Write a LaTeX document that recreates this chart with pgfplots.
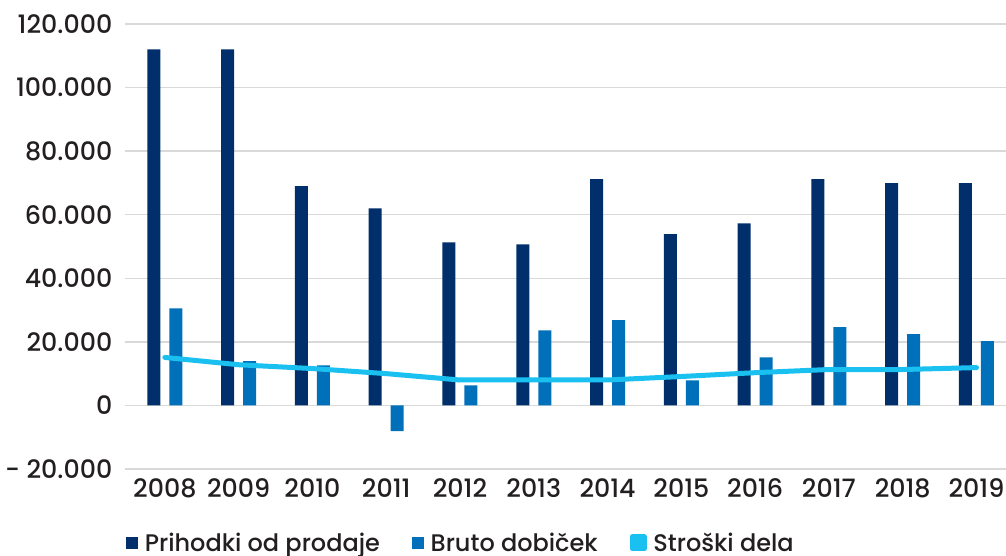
\documentclass[border=0pt]{standalone}
\usepackage{pgfplots}
\pgfplotsset{compat=1.18}
\usepackage{fontspec}
\setmainfont{Poppins}[UprightFont={* Medium}]
\definecolor{navyCol}{HTML}{002F6C}
\definecolor{blueCol}{HTML}{0070BA}
\definecolor{cyanCol}{HTML}{1AC0F0}
\definecolor{gridCol}{HTML}{D9D9D9}
\definecolor{txtCol}{HTML}{231F20}

\pgfplotstableread{
idx prihodki bruto stroski
0  112000  30500 15100
1  112000  13900 12800
2   69000  12600 11600
3   62000  -8100 10000
4   51300   6300  8000
5   50700  23600  8000
6   71200  26800  8000
7   53900   7900  9100
8   57300  15100 10300
9   71200  24600 11300
10  69900  22400 11300
11  69900  20200 11900
}\data

\begin{document}
\begin{tikzpicture}
\useasboundingbox (-93.75pt,-65.25pt) rectangle (660.75pt,351.75pt);
\begin{axis}[
    at={(0pt,0pt)}, anchor=south west, scale only axis,
    width=660.75pt, height=333.75pt,
    xmin=-0.54, xmax=11.4, ymin=-20000, ymax=120000,
    axis line style={draw=none}, major tick length=0pt,
    scaled y ticks=false,
    ytick={-20000,0,20000,40000,60000,80000,100000,120000},
    yticklabels={- 20.000,0,20.000,40.000,60.000,80.000,100.000,120.000},
    xtick={0,...,11},
    xticklabels={2008,2009,2010,2011,2012,2013,2014,2015,2016,2017,2018,2019},
    ymajorgrids, grid style={draw=gridCol, line width=1pt},
    tick label style={font=\fontsize{19}{22}\selectfont, text=txtCol},
    yticklabel style={xshift=-6pt},
    xticklabel style={yshift=-4pt},
    legend style={at={(0.001,-0.166)}, anchor=west, draw=none, fill=none,
        inner sep=0pt, legend columns=-1,
        font=\fontsize{18}{21}\selectfont, text=txtCol,
        /tikz/every even column/.append style={column sep=22pt}},
    legend image code/.code={\fill[#1] (0pt,-4.5pt) rectangle (9pt,4.5pt); \path (12pt,0pt);},
]
\addplot[ybar, bar width=9.75pt, bar shift=-8.25pt, fill=navyCol, draw=none]
    table[x=idx, y=prihodki] {\data};
\addlegendentry{Prihodki od prodaje}
\addplot[ybar, bar width=9.75pt, bar shift=8.25pt, fill=blueCol, draw=none]
    table[x=idx, y=bruto] {\data};
\addlegendentry{Bruto dobiček\hspace{12pt}}
\addplot[draw=cyanCol, line width=3.75pt, line cap=round, line join=round, no marks,
    legend image code/.code={\fill[cyanCol] (0pt,-4.5pt) rectangle (9pt,4.5pt); \path (12pt,0pt);}]
    table[x=idx, y=stroski] {\data};
\addlegendentry{Stroški dela}
\end{axis}
\end{tikzpicture}
\end{document}
